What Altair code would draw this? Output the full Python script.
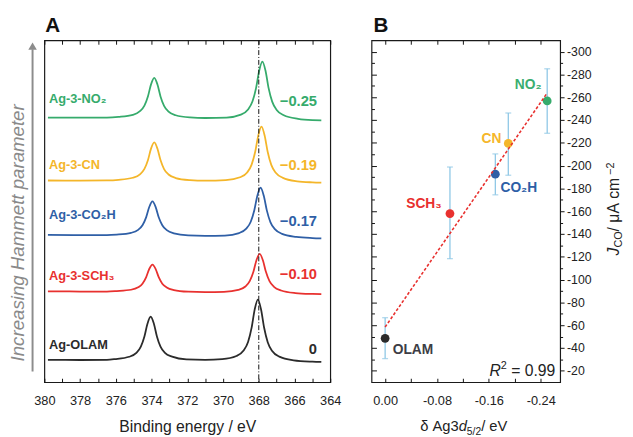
import altair as alt
import pandas as pd

FONT = "Liberation Sans"

# ---------------- Panel A: XPS Ag 3d spectra ----------------
series = ["Ag-OLAM", "Ag-3-SCH₃", "Ag-3-CO₂H", "Ag-3-CN", "Ag-3-NO₂"]
series_colors = ["#2b2b2b", "#e8312f", "#2f5fa6", "#f4b62a", "#36ab6c"]
hammett = ["0", "−0.10", "−0.17", "−0.19", "−0.25"]

e_olam = [379.8, 378, 376.5, 376.05, 375.25, 374.85, 374.6, 374.4, 374.23, 374.05, 373.87, 373.7, 373.5, 373.25, 372.85, 372.05, 371, 370.05, 369.25, 368.85, 368.6, 368.4, 368.23, 368.05, 367.87, 367.7, 367.5, 367.25, 366.85, 366.05, 365, 364.5]
i_olam = [22.7, 22.6, 22.8, 23.5, 25.9, 29.8, 36.1, 46.4, 59.5, 66.7, 59.5, 46.5, 36.1, 29.8, 26.0, 23.2, 22.7, 23.4, 26.6, 32.2, 41.0, 55.5, 73.9, 84.1, 73.8, 55.4, 40.7, 31.8, 26.0, 22.3, 20.9, 20.6]

e_sch3 = [379.8, 378, 376.5, 375.95, 375.15, 374.75, 374.5, 374.3, 374.13, 373.95, 373.77, 373.6, 373.4, 373.15, 372.75, 371.95, 371, 369.95, 369.15, 368.75, 368.5, 368.3, 368.13, 367.95, 367.77, 367.6, 367.4, 367.15, 366.75, 365.95, 365, 364.5]
i_sch3 = [92.5, 92.3, 92.3, 92.8, 94.1, 96.6, 100.5, 107.0, 115.2, 119.6, 115.1, 106.9, 100.3, 96.4, 93.8, 92.1, 91.6, 92.0, 93.9, 97.4, 103.1, 112.4, 124.2, 130.6, 124.1, 112.3, 102.8, 97.1, 93.3, 90.7, 89.8, 89.6]

e_co2h = [379.8, 378, 376.5, 375.95, 375.15, 374.75, 374.5, 374.3, 374.13, 373.95, 373.77, 373.6, 373.4, 373.15, 372.75, 371.95, 371, 369.9, 369.1, 368.7, 368.45, 368.25, 368.08, 367.9, 367.72, 367.55, 367.35, 367.1, 366.7, 365.9, 365, 364.5]
i_co2h = [150.0, 149.7, 149.7, 150.2, 152.0, 155.1, 160.0, 168.0, 178.3, 184.0, 178.2, 167.9, 159.8, 154.8, 151.5, 149.4, 149.0, 149.3, 151.8, 156.3, 163.3, 175.1, 189.8, 198.0, 189.7, 174.9, 163.0, 155.8, 151.0, 147.9, 146.7, 146.4]

e_cn = [379.8, 378, 376.5, 375.85, 375.05, 374.65, 374.4, 374.2, 374.03, 373.85, 373.67, 373.5, 373.3, 373.05, 372.65, 371.85, 371, 369.85, 369.05, 368.65, 368.4, 368.2, 368.03, 367.85, 367.67, 367.5, 367.3, 367.05, 366.65, 365.85, 365, 364.5]
i_cn = [205.3, 205.2, 205.4, 206.0, 208.1, 211.6, 217.1, 226.2, 237.7, 244.0, 237.6, 226.1, 216.9, 211.4, 207.8, 205.7, 205.1, 205.7, 208.6, 213.5, 221.5, 234.5, 251.0, 260.1, 250.9, 234.3, 221.2, 213.1, 208.0, 204.5, 203.4, 203.1]

e_no2 = [379.8, 378, 376.5, 375.85, 375.05, 374.65, 374.4, 374.2, 374.03, 373.85, 373.67, 373.5, 373.3, 373.05, 372.65, 371.85, 371, 369.8, 369.0, 368.6, 368.35, 368.15, 367.98, 367.8, 367.62, 367.45, 367.25, 367.0, 366.6, 365.8, 365, 364.5]
i_no2 = [269.3, 269.2, 269.3, 270.0, 272.1, 275.8, 281.5, 291.1, 303.1, 309.7, 303.0, 290.9, 281.3, 275.4, 271.7, 269.5, 268.9, 269.4, 272.4, 277.6, 285.9, 299.6, 316.8, 326.3, 316.8, 299.3, 285.6, 277.1, 271.7, 268.1, 266.8, 266.6]

ref_energy = [368.0]
energy_ticks = list(range(364, 381))

# label anchors (data coordinates)
name_e = [379.74] * 5
name_i = [33.3, 104.0, 165.7, 217.3, 284.0]
value_e = [364.74] * 5
value_i = [29.0, 104.7, 159.0, 215.7, 280.7]

# ---------------- Panel B: J_CO vs Ag3d shift ----------------
ligands = ["OLAM", "SCH₃", "CO₂H", "CN", "NO₂"]
point_colors = ["#3d3d45", "#e8302e", "#2d5ea6", "#f5b62a", "#3aae6f"]
shift = [0.00, -0.10, -0.17, -0.19, -0.25]
jco = [-48.5, -158.0, -192.5, -219.5, -256.8]
j_low = [-30.7, -118.4, -174.4, -191.6, -228.4]
j_high = [-66.6, -198.8, -210.3, -246.2, -285.0]

lab_left = ["OLAM", "CO₂H"]
lab_left_x = [-0.0117, -0.1779]
lab_left_y = [-35.0, -177.2]
lab_left_c = ["#3d3d45", "#2d5ea6"]
lab_right = ["SCH₃", "CN", "NO₂"]
lab_right_x = [-0.0872, -0.1794, -0.2413]
lab_right_y = [-162.6, -220.3, -266.9]
lab_right_c = ["#e8302e", "#f5b62a", "#3aae6f"]

shift_ticks = [0.0, -0.04, -0.08, -0.12, -0.16, -0.20, -0.24]
j_major = list(range(-20, -301, -20))
j_minor = list(range(-30, -300, -20))

# ---------------- build tables ----------------
rows = []
for s, es, is_ in zip(series, [e_olam, e_sch3, e_co2h, e_cn, e_no2],
                      [i_olam, i_sch3, i_co2h, i_cn, i_no2]):
    for e, i in zip(es, is_):
        rows.append({"series": s, "E": e, "I": i})
dfA = pd.DataFrame(rows)
dfNames = pd.DataFrame({"series": series, "E": name_e, "I": name_i})
dfVals = pd.DataFrame({"series": series, "t": hammett, "E": value_e, "I": value_i})
dfRef = pd.DataFrame({"E": ref_energy})

dfB = pd.DataFrame({"lig": ligands, "shift": shift, "J": jco, "lo": j_low, "hi": j_high})
dfLL = pd.DataFrame({"t": lab_left, "shift": lab_left_x, "J": lab_left_y, "c": lab_left_c})
dfLR = pd.DataFrame({"t": lab_right, "shift": lab_right_x, "J": lab_right_y, "c": lab_right_c})

WA, HA = 291, 348
WB, HB = 192, 348
NB = "\u00a0"

scA_x = alt.Scale(domain=[380, 364], nice=False, zero=False)
scA_y = alt.Scale(domain=[0, 348], nice=False, zero=False)
colA = alt.Color("series:N", scale=alt.Scale(domain=series, range=series_colors), legend=None)


def one(text):
    return pd.DataFrame({"t": [text]})


def ptext(text, x, y, size, weight="normal", style="normal", color="#222", align="left",
          angle=0, baseline="alphabetic"):
    return alt.Chart(one(text)).mark_text(
        fontSize=size, fontWeight=weight, fontStyle=style, color=color, align=align,
        baseline=baseline, angle=angle, font=FONT
    ).encode(x=alt.value(x), y=alt.value(y), text="t:N")


axA_bottom = alt.Axis(orient="bottom", values=energy_ticks, offset=-4, tickSize=4, domain=False,
                      grid=False, labelExpr="datum.value % 2 == 0 ? datum.label : ''",
                      labelPadding=13, labelFontSize=13, labelFlush=False, labelOverlap=False,
                      title="Binding energy / eV", titleFontSize=16, titleFontWeight="normal",
                      titlePadding=11.5, titleColor="#222")
axA_top = alt.Axis(orient="top", values=energy_ticks, offset=-4, tickSize=4, domain=False,
                   grid=False, labels=False, title=None)

linesA = alt.Chart(dfA).mark_line(strokeWidth=1.8, interpolate="monotone").encode(
    x=alt.X("E:Q", scale=scA_x, axis=axA_bottom),
    y=alt.Y("I:Q", scale=scA_y, axis=None),
    color=colA,
)
ruleA = alt.Chart(dfRef).mark_rule(color="#111", strokeWidth=1, strokeDash=[5, 2, 1, 2]).encode(
    x=alt.X("E:Q", scale=scA_x, axis=axA_top)
)
namesA = alt.Chart(dfNames).mark_text(align="left", baseline="alphabetic", fontSize=13,
                                      fontWeight="bold", font=FONT).encode(
    x=alt.X("E:Q", scale=scA_x, axis=None), y=alt.Y("I:Q", scale=scA_y, axis=None),
    text="series:N", color=colA)
valsA = alt.Chart(dfVals).mark_text(align="right", baseline="alphabetic", fontSize=15,
                                    fontWeight="bold", font=FONT).encode(
    x=alt.X("E:Q", scale=scA_x, axis=None), y=alt.Y("I:Q", scale=scA_y, axis=None),
    text="t:N", color=colA)

arrow_line = alt.Chart(one("a")).mark_rule(color="#8c8c8c", strokeWidth=2).encode(
    x=alt.value(-12), y=alt.value(9), y2=alt.value(337))
arrow_head = alt.Chart(one("a")).mark_point(shape="triangle-up", filled=True, size=75,
                                            color="#8c8c8c", opacity=1).encode(
    x=alt.value(-12), y=alt.value(6))

panelA = alt.layer(
    linesA, ruleA, namesA, valsA, arrow_line, arrow_head,
    ptext("Increasing Hammett parameter", -21, 196, 19, style="italic", color="#8a8a8a",
          align="center", angle=270),
    ptext("A", 1, -8, 21, weight="bold", color="#111"),
).resolve_axis(x="independent", y="independent").properties(width=WA, height=HA)

# ---------------- Panel B ----------------
scB_x = alt.Scale(domain=[0.021, -0.27], nice=False, zero=False)
scB_y = alt.Scale(domain=[-10, -310], nice=False, zero=False)

x_lab = ("abs(round(datum.value*100)) % 8 == 0 ? (datum.value == 0 ? '0.00' : "
         "'-' + format(abs(datum.value), '.2f')) : ''")
axB_bottom = alt.Axis(orient="bottom", values=shift_ticks, offset=-4, tickSize=4, domain=False,
                      grid=False, labelExpr=x_lab, labelPadding=13, labelFontSize=13,
                      labelFlush=False, labelOverlap=False, title=None)
axB_top = alt.Axis(orient="top", values=shift_ticks, offset=-4, tickSize=4, domain=False,
                   grid=False, labels=False, title=None)
axB_right = alt.Axis(orient="right", values=j_major, tickSize=4, domain=False, grid=False,
                     labelExpr="'-' + abs(datum.value)", labelPadding=2.5, labelFontSize=12.5,
                     labelFlush=False, labelOverlap=False, title=None)
axB_right_minor = alt.Axis(orient="right", values=j_minor, tickSize=2.5, domain=False,
                           grid=False, labels=False, title=None)
axB_left = alt.Axis(orient="left", values=j_major, offset=-5, tickSize=5, domain=False,
                    grid=False, labels=False, title=None)
axB_left_minor = alt.Axis(orient="left", values=j_minor, offset=-3, tickSize=3, domain=False,
                          grid=False, labels=False, title=None)

colB = alt.Color("lig:N", scale=alt.Scale(domain=ligands, range=point_colors), legend=None)

errB = alt.Chart(dfB).mark_rule(color="#8ec7e6", strokeWidth=1.3).encode(
    x=alt.X("shift:Q", scale=scB_x, axis=axB_top),
    y=alt.Y("lo:Q", scale=scB_y, axis=axB_left),
    y2="hi:Q",
)
capLo = alt.Chart(dfB).mark_tick(color="#8ec7e6", orient="horizontal", size=6, thickness=1.3).encode(
    x=alt.X("shift:Q", scale=scB_x, axis=None),
    y=alt.Y("lo:Q", scale=scB_y, axis=axB_left_minor),
)
capHi = alt.Chart(dfB).mark_tick(color="#8ec7e6", orient="horizontal", size=6, thickness=1.3).encode(
    x=alt.X("shift:Q", scale=scB_x, axis=None),
    y=alt.Y("hi:Q", scale=scB_y, axis=None),
)
ptsB = alt.Chart(dfB).mark_circle(size=80, opacity=1).encode(
    x=alt.X("shift:Q", scale=scB_x, axis=axB_bottom),
    y=alt.Y("J:Q", scale=scB_y, axis=axB_right),
    color=colB,
)
fitB = alt.Chart(dfB).transform_regression("shift", "J").mark_line(
    color="#e8302e", strokeWidth=1.6, strokeDash=[3, 2]).encode(
    x=alt.X("shift:Q", scale=scB_x, axis=None),
    y=alt.Y("J:Q", scale=scB_y, axis=axB_right_minor),
)
labL = alt.Chart(dfLL).mark_text(align="left", baseline="alphabetic", fontSize=14,
                                 fontWeight="bold", font=FONT).encode(
    x=alt.X("shift:Q", scale=scB_x, axis=None), y=alt.Y("J:Q", scale=scB_y, axis=None),
    text="t:N", color=alt.Color("c:N", scale=None))
labR = alt.Chart(dfLR).mark_text(align="right", baseline="alphabetic", fontSize=14,
                                 fontWeight="bold", font=FONT).encode(
    x=alt.X("shift:Q", scale=scB_x, axis=None), y=alt.Y("J:Q", scale=scB_y, axis=None),
    text="t:N", color=alt.Color("c:N", scale=None))

panelB = alt.layer(
    errB, capLo, capHi, ptsB, fitB, labL, labR,
    ptext("B", 2, -8, 21, weight="bold", color="#111"),
    # R^2 annotation
    ptext("R", 131.6, 342, 16, style="italic", align="right"),
    ptext("2", 137.7, 335, 11, align="right"),
    ptext("= 0.99", 187, 342, 16, align="right"),
    # x title: δ Ag3d5/2 / eV
    ptext("δ Ag3", 49.5, 398, 15),
    ptext("d", 88.7, 398, 15, style="italic"),
    ptext("5/2", 97.0, 401.5, 10.5),
    ptext(NB + "/" + NB + "eV", 111.6, 398, 15),
    # y title: J_CO / μA cm^-2 (rotated)
    ptext("J", 252, 219, 16, style="italic", angle=270),
    ptext("CO", 255, 211, 11, angle=270),
    ptext(NB + "/" + NB + "μA" + NB + "cm", 252, 194.5, 16, angle=270),
    ptext("−2", 246.5, 137, 11, angle=270),
).resolve_axis(x="independent", y="independent").properties(width=WB, height=HB)

chart = alt.hconcat(panelA, panelB, spacing=28).properties(
    padding={"top": 3, "left": 0, "right": 0, "bottom": 0}
).configure_view(
    stroke="#1a1a1a", strokeWidth=1.2
).configure_axis(
    tickColor="#111", tickWidth=1, labelColor="#222", labelFont=FONT, titleFont=FONT
).configure_text(font=FONT)

chart.save("out.html", embed_options={"renderer": "svg", "actions": False})
